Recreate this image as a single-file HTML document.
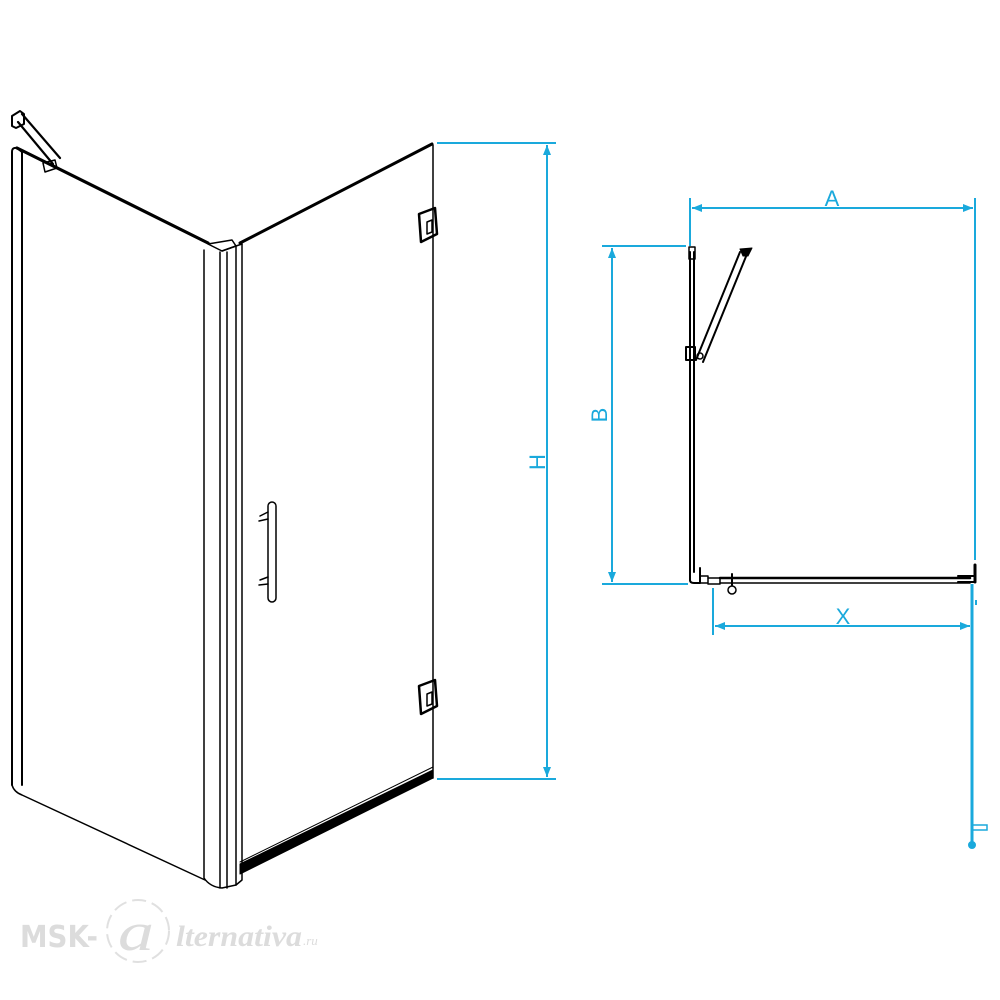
<!DOCTYPE html>
<html><head><meta charset="utf-8"><style>html,body{margin:0;padding:0;background:#fff}svg{display:block}</style></head>
<body>
<svg width="1000" height="1000" viewBox="0 0 1000 1000" xmlns="http://www.w3.org/2000/svg">
<defs>
<marker id="ar" viewBox="0 0 10 10" refX="10" refY="5" markerWidth="10" markerHeight="10" orient="auto-start-reverse" markerUnits="userSpaceOnUse"><path d="M0,1 L10,5 L0,9 Z" fill="#1aa9dc"/></marker>
</defs>
<g fill="none" stroke="#000" stroke-linecap="round" stroke-linejoin="round">
<!-- left panel -->
<path d="M12,785 L12,152 Q12,147 17,148 L22,152 L22,785" stroke-width="2"/>
<line x1="17" y1="148" x2="208" y2="243" stroke-width="3.2"/>
<path d="M12,785 Q14,792 22,795 L205,880" stroke-width="1.5"/>
<!-- wall bracket -->
<path d="M12,116 L20,111 L24,114 L24,124 L16,128 L12,126 Z" stroke-width="2"/>
<path d="M22,114 L60,158 M18,122 L53,164" stroke-width="2.2"/>
<path d="M43,163 L55,160 L57,168 L45,172 Z" stroke-width="1.5"/>
<!-- corner post -->
<path d="M204,250 L204,878 Q210,887 222,888 L236,885 L242,880 L242,244" stroke-width="1.5"/>
<line x1="220" y1="252" x2="220" y2="888" stroke-width="1.5"/>
<line x1="227" y1="252" x2="227" y2="888" stroke-width="1.5"/>
<line x1="236" y1="246" x2="236" y2="885" stroke-width="1.5"/>
<path d="M208,244 L222,251 L236,246 L232,240 Z" stroke-width="1.5"/>
<path d="M222,251 L236,246 L242,244" stroke-width="1.5"/>
<!-- door -->
<line x1="240" y1="243" x2="432" y2="144" stroke-width="3"/>
<line x1="433" y1="145" x2="433" y2="778" stroke-width="1.5"/>
<path d="M240,864 L433,770 L433,778 L240,874 Z" fill="#000" stroke-width="1"/>
<line x1="240" y1="862" x2="433" y2="767" stroke-width="1"/>
<!-- hinges -->
<path d="M419,214 L435,208 L437,234 L421,242 Z" stroke-width="2.5"/>
<path d="M427,222 L432,220 L432,232 L427,234 Z" stroke-width="1.5"/>
<path d="M419,686 L435,680 L437,706 L421,714 Z" stroke-width="2.5"/>
<path d="M427,694 L432,692 L432,704 L427,706 Z" stroke-width="1.5"/>
<!-- handle -->
<rect x="268" y="502" width="8" height="100" rx="4" stroke-width="1.5"/>
<path d="M260,516 L268,512 M259,521 L268,519" stroke-width="1.5"/>
<path d="M260,580 L268,577 M259,585 L268,584" stroke-width="1.5"/>
<!-- plan view -->
<line x1="690" y1="252" x2="690" y2="580" stroke-width="2"/>
<line x1="694" y1="252" x2="694" y2="572" stroke-width="2"/>
<rect x="689" y="247" width="6" height="12" stroke-width="1.5"/>
<path d="M740,252 L696,360 M747,254 L703,362" stroke-width="2"/>
<path d="M740,249 L752,248 L748,256 L743,256 Z" fill="#000" stroke-width="1"/>
<rect x="686" y="347" width="9" height="13" stroke-width="2"/>
<circle cx="700" cy="356" r="3" stroke-width="1.5"/>
<path d="M690,565 L690,580 Q690,583 694,583 L700,583 L700,568" stroke-width="2"/>
<rect x="700" y="576" width="8" height="7" stroke-width="1.5"/>
<path d="M708,578 L720,578 L720,584 L708,584" stroke-width="1.5"/>
<line x1="720" y1="578" x2="970" y2="578" stroke-width="2.5"/>
<line x1="720" y1="583" x2="970" y2="583" stroke-width="1.5"/>
<line x1="732" y1="574" x2="732" y2="585" stroke-width="2"/>
<circle cx="732" cy="590" r="4" stroke-width="1.5"/>
<path d="M958,576 L975,576 L975,582 L958,582" stroke-width="2"/>
<line x1="975" y1="565" x2="975" y2="582" stroke-width="3"/>
</g>
<g stroke="#1aa9dc" fill="none" stroke-width="2">
<line x1="437" y1="143" x2="556" y2="143"/>
<line x1="437" y1="779" x2="556" y2="779"/>
<line x1="547" y1="145" x2="547" y2="777" marker-start="url(#ar)" marker-end="url(#ar)"/>
<line x1="690" y1="198" x2="690" y2="246"/>
<line x1="975" y1="198" x2="975" y2="560"/>
<line x1="692" y1="208" x2="973" y2="208" marker-start="url(#ar)" marker-end="url(#ar)"/>
<line x1="602" y1="246" x2="686" y2="246"/>
<line x1="602" y1="584" x2="688" y2="584"/>
<line x1="612" y1="248" x2="612" y2="582" marker-start="url(#ar)" marker-end="url(#ar)"/>
<line x1="713" y1="588" x2="713" y2="635"/>
<line x1="972" y1="584" x2="972" y2="845" stroke-width="3"/>
<line x1="715" y1="626" x2="970" y2="626" marker-start="url(#ar)" marker-end="url(#ar)"/>
<line x1="976" y1="600" x2="976" y2="605"/>
<rect x="972" y="825" width="15" height="5" stroke-width="1.5"/>
<circle cx="972" cy="845" r="3" fill="#1aa9dc"/>
</g>
<g fill="#1aa9dc" font-family="Liberation Sans, sans-serif" font-size="22">
<text x="832" y="206" text-anchor="middle">A</text>
<text x="843" y="624" text-anchor="middle">X</text>
<text transform="translate(607,415) rotate(-90)" text-anchor="middle">B</text>
<text transform="translate(545,462) rotate(-90)" text-anchor="middle">H</text>
</g>
<!-- watermark -->
<g fill="#dcdcdc">
<text x="20" y="947" font-family="DejaVu Sans, sans-serif" font-weight="bold" font-size="30" textLength="78" lengthAdjust="spacingAndGlyphs">MSK-</text>
<circle cx="138" cy="931" r="31" fill="none" stroke="#e0e0e0" stroke-width="2" stroke-dasharray="14 6"/>
<text x="118" y="950" font-family="Liberation Serif, serif" font-style="italic" font-size="54" textLength="36" lengthAdjust="spacingAndGlyphs">a</text>
<text x="176" y="946" font-family="Liberation Serif, serif" font-style="italic" font-weight="bold" font-size="30" textLength="126" lengthAdjust="spacingAndGlyphs">lternativa</text>
<text x="303" y="945" font-family="Liberation Serif, serif" font-style="italic" font-size="13">.ru</text>
</g>
</svg>
</body></html>
